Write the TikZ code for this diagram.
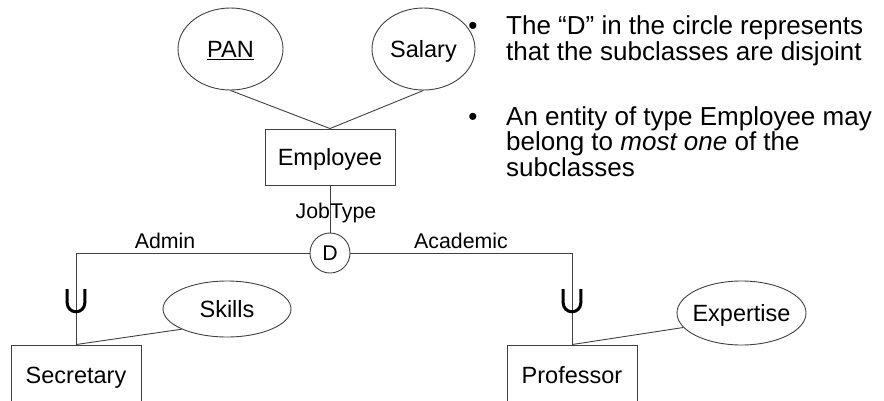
\documentclass[tikz,border=0pt]{standalone}
\usepackage{fontspec}
\setmainfont{Liberation Sans}
\usetikzlibrary{shapes.geometric}

\tikzset{
  edge/.style={draw=black!75, line width=0.9pt},
  entity/.style={rectangle, edge, inner sep=0pt, minimum width=130pt,
    font=\fontsize{23.5}{26}\selectfont, text height=17pt, text depth=0pt},
  attr/.style={ellipse, edge, inner sep=0pt,
    font=\fontsize{23.5}{26}\selectfont, text height=17pt, text depth=0pt},
  disj/.style={circle, edge, inner sep=0pt, minimum size=40pt,
    font=\fontsize{21.3}{24}\selectfont, text height=15.2pt, text depth=0pt},
  role/.style={inner sep=0pt, anchor=base, font=\fontsize{21.3}{24}\selectfont},
  subsetmark/.style={draw=black, line width=3pt},
  note/.style={inner sep=0pt, anchor=base west, font=\fontsize{26}{25.5}\selectfont},
  dot/.style={inner sep=0pt, anchor=base, font=\fontsize{26}{25.5}\selectfont},
}

\begin{document}
\begin{tikzpicture}[x=1pt, y=-1pt]
  \useasboundingbox (0,0) rectangle (884,400);

  % superclass and its attributes
  \node[entity, minimum height=56pt] (emp) at (330,157) {Employee};
  \node[attr, minimum width=105pt, minimum height=82pt] (pan) at (230.5,49)
    {\makebox[0pt]{\underline{PAN}}};
  \node[attr, minimum width=103pt, minimum height=82pt] (sal) at (423.5,49)
    {\makebox[0pt]{Salary}};

  % disjointness circle
  \node[disj] (d) at (330,253) {D};

  % subclasses and their attributes
  \node[entity, minimum height=60pt] (sec) at (76,375) {Secretary};
  \node[entity, minimum height=60pt] (prof) at (572,375) {Professor};
  \node[attr, minimum width=128pt, minimum height=56pt] (skills) at (227,309)
    {\makebox[0pt]{Skills}};
  \node[attr, minimum width=129pt, minimum height=64pt] (exp) at (741.5,313)
    {\makebox[0pt]{Expertise}};

  % connectors
  \draw[edge] (pan.south) -- (emp.north);
  \draw[edge] (sal.south) -- (emp.north);
  \draw[edge] (emp.south) -- (d.north);
  \draw[edge] (d.west) -| (sec.north);
  \draw[edge] (d.east) -| (prof.north);
  \draw[edge] (skills.204) -- (sec.north);
  \draw[edge] (exp.194) -- (prof.north);

  % subset marks on the specialisation lines
  \coordinate (ua) at (sec.north |- 0,303);
  \coordinate (ub) at (prof.north |- 0,303);
  \foreach \u in {ua,ub}
    \draw[subsetmark] (\u) ++(-8.8,-14) -- ++(0,14)
      arc[start angle=180, end angle=0, radius=8.8] -- ++(0,-14);

  % line labels
  \node[role] (jt) at (336,218) {JobType};
  \node[role] (adm) at (165,248) {Admin};
  \node[role] (aca) at (461,248) {Academic};

  % notes
  \node[dot] (b1) at (473,34.5) {•};
  \node[note] (t1) at (506,34.5) {\parbox[t]{380pt}{\raggedright
    The “D” in the circle represents\\that the subclasses are disjoint}};
  \node[dot] (b2) at (473,125) {•};
  \node[note] (t2) at (506,125) {\parbox[t]{380pt}{\raggedright
    An entity of type Employee may\\belong to \textit{most one} of the\\subclasses}};
\end{tikzpicture}
\end{document}
